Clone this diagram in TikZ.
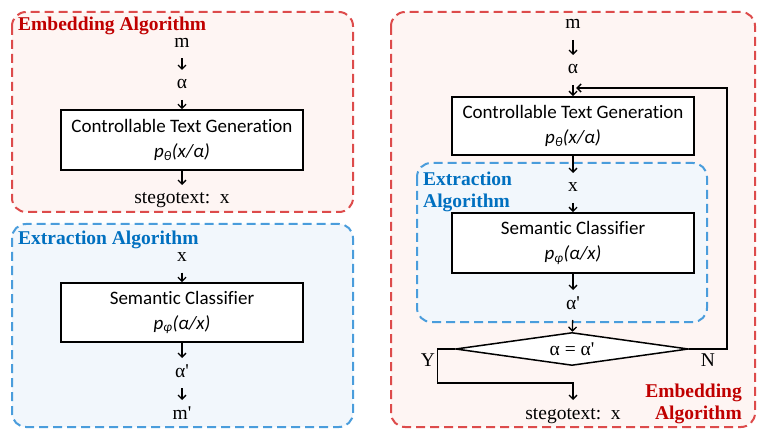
\documentclass[tikz,border=0pt]{standalone}
\usepackage{fontspec}
\setmainfont{Liberation Serif}
\newfontfamily\calfont[Ligatures={NoCommon}]{Carlito}
\usetikzlibrary{arrows.meta,shapes.geometric}
\definecolor{redln}{RGB}{221,75,75}
\definecolor{redfill}{RGB}{254,245,243}
\definecolor{blueln}{RGB}{74,157,220}
\definecolor{bluefill}{RGB}{242,247,252}
\definecolor{redtxt}{RGB}{192,0,0}
\definecolor{bluetxt}{RGB}{0,112,192}
\newcommand{\pq}{\textquotesingle}
\begin{document}
\begin{tikzpicture}[x=1pt,y=-1pt,
  redframe/.style={draw=redln,fill=redfill,line width=2pt,dash pattern=on 9pt off 5pt,rounded corners=14pt},
  blueframe/.style={draw=blueln,fill=bluefill,line width=2pt,dash pattern=on 9pt off 5pt,rounded corners=14pt},
  lab/.style={font=\fontsize{19.5}{22}\selectfont,inner xsep=1pt,inner ysep=0pt,outer xsep=1pt,outer ysep=10pt,
    text height=9pt,text depth=1pt},
  ttl/.style={font=\bfseries\fontsize{19.5}{22}\selectfont,inner sep=0pt},
  procbox/.style={draw,line width=1.8pt,fill=white,minimum width=242pt,align=center,
    font=\calfont\fontsize{19}{25}\selectfont,inner sep=0pt},
  dia/.style={diamond,draw,line width=1.5pt,fill=white,minimum width=233pt,minimum height=33pt,
    inner sep=0pt,aspect=7,font=\fontsize{19.5}{22}\selectfont},
  arr/.style={line width=1.3pt,-{Straight Barb[length=4pt,width=8pt]}},
  fbline/.style={line width=1.5pt,-{Straight Barb[length=4pt,width=8pt]}}
]
\useasboundingbox (0,0) rectangle (767,443);

% ---------- left top: embedding ----------
\draw[redframe] (12,12) rectangle (353,212);
\node[ttl,text=redtxt,anchor=base west] (t1) at (18,31) {Embedding Algorithm};
\node[lab] (m1) at (182,43.5) {m};
\node[lab] (a1) at (182,85) {α};
\node[procbox,minimum height=60pt] (ctg1) at (182,140) {Controllable Text Generation\\{\itshape p\textsubscript{θ}(x/α)}};
\node[lab] (s1) at (182,200) {stegotext:\ \ x};
\draw[arr] (m1) -- (a1);
\draw[arr] (a1) -- (ctg1);
\draw[arr] (ctg1) -- (s1);

% ---------- left bottom: extraction ----------
\draw[blueframe] (12,224) rectangle (353,427);
\node[ttl,text=bluetxt,anchor=base west] (t2) at (18,245) {Extraction Algorithm};
\node[lab] (x2) at (182,257.5) {x};
\node[procbox,minimum height=59pt] (sc1) at (182,312.5) {Semantic Classifier\\{\itshape p\textsubscript{φ}(α/x)}};
\node[lab] (ap1) at (182,373) {α\pq};
\node[lab] (mp1) at (182,415) {m\pq};
\draw[arr] (x2) -- (sc1);
\draw[arr] (sc1) -- (ap1);
\draw[arr] (ap1) -- (mp1);

% ---------- right: combined ----------
\draw[redframe] (391,12) rectangle (755,427);
\draw[blueframe] (417,163) rectangle (707,322);
\node[ttl,text=bluetxt,anchor=north west,align=left] (t3) at (423,172) {Extraction\\Algorithm};
\node[ttl,text=redtxt,anchor=north east,align=right] (t4) at (742,384) {Embedding\\Algorithm};

\node[lab] (m3) at (573,25) {m};
\node[lab] (a3) at (573,70) {α};
\node[procbox,minimum height=58pt] (ctg2) at (573,126) {Controllable Text Generation\\{\itshape p\textsubscript{θ}(x/α)}};
\node[lab] (x3) at (573,188) {x};
\node[procbox,minimum height=60pt] (sc2) at (573,243) {Semantic Classifier\\{\itshape p\textsubscript{φ}(α/x)}};
\node[lab] (ap2) at (573,305) {α\pq};
\node[dia] (dec) at (572,349) {α = α\pq};
\node[lab] (s2) at (573,415) {stegotext:\ \ x};
\node[lab] (yl) at (428,362) {Y};
\node[lab] (nl) at (708,362) {N};

\coordinate (fbc) at (727,88);
\coordinate (fbin) at (576,88);
\coordinate (yt) at (573,383);

\draw[arr] (m3) -- (a3);
\draw[arr] (a3) -- (ctg2);
\draw[arr] (ctg2) -- (x3);
\draw[arr] (x3) -- (sc2);
\draw[arr] (sc2) -- (ap2);
\draw[arr] (ap2) -- (dec);
\draw[arr] (dec.west) -- ++(-17,0) |- (yt) -- (s2);
\draw[fbline] (dec.east) -| (fbc) -- (fbin);
\end{tikzpicture}
\end{document}
